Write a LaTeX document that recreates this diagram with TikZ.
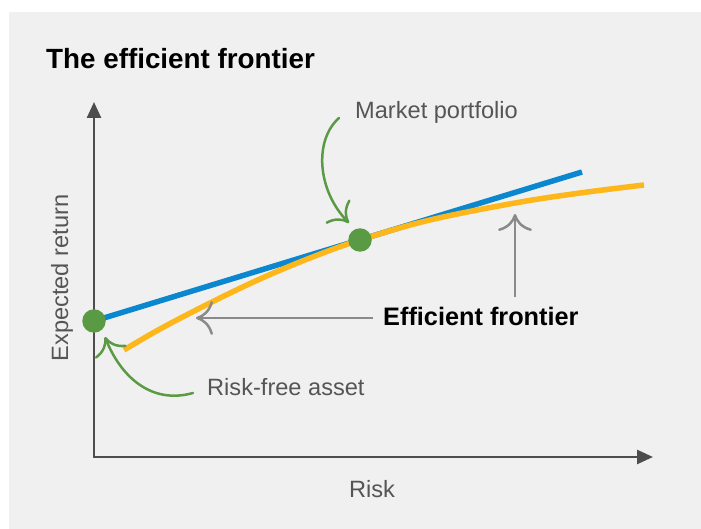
\documentclass[tikz,border=0pt]{standalone}
\usepackage{fontspec}
\setmainfont{Liberation Sans}
\usetikzlibrary{arrows.meta}
\definecolor{bgc}{HTML}{F0F0F0}
\definecolor{axisc}{HTML}{4D4D4D}
\definecolor{bluec}{HTML}{0A87CE}
\definecolor{orangec}{HTML}{FDB71A}
\definecolor{greenc}{HTML}{5A9A45}
\definecolor{grayarr}{HTML}{8A8A8A}
\definecolor{labelc}{HTML}{555555}
\tikzset{
  lbl/.style={inner sep=0pt, text=labelc, font=\fontsize{23.6}{28}\selectfont},
  axisline/.style={draw=axisc, line width=2.5pt, {Triangle[length=16pt,width=14pt]}-{Triangle[length=16pt,width=14pt]}},
  grayarrow/.style={draw=grayarr, line width=2.5pt, -{Computer Modern Rightarrow[length=17pt,width=34pt,line width=2.5pt]}},
  greenarrow/.style={draw=greenc, line width=2.5pt, line cap=round, -{Computer Modern Rightarrow[length=17pt,width=34pt,line width=2.5pt]}},
  dot/.style={circle, fill=greenc, minimum size=23.5pt, inner sep=0pt},
}
\begin{document}
\begin{tikzpicture}[x=1pt,y=-1pt]
\useasboundingbox (0,0) rectangle (701,529);
\fill[bgc] (9,12) rectangle (701,529);
% title
\node[inner sep=0pt, anchor=base west, font=\fontsize{27.8}{32}\selectfont\bfseries] (title) at (46,69) {The efficient frontier};
% axes
\coordinate (ytip) at (94,102);
\coordinate (xtip) at (653,457);
\draw[axisline] (ytip) |- (xtip);
% axis labels
\node[lbl, rotate=90, anchor=base] (ylab) at (68,278) {Expected return};
\node[lbl, anchor=base] (xlab) at (372,497) {Risk};
% dots positions
\coordinate (rfc) at (94,321);
\coordinate (mpc) at (360,240);
\coordinate (blueend) at (582,172);
% capital market line
\draw[bluec, line width=5.5pt] (rfc) -- (blueend);
% efficient frontier curve
\draw[orangec, line width=5.5pt] plot[smooth, tension=0.6] coordinates {(124,350) (160,329) (210,303) (260,279) (310,258) (360,240) (430,220) (515,203) (580,193) (644,185)};
% dots
\node[dot] (rf) at (rfc) {};
\node[dot] (mp) at (mpc) {};
% labels
\node[lbl, anchor=base west] (mplab) at (355,119) {Market portfolio};
\node[lbl, anchor=base west] (rflab) at (207,395) {Risk-free asset};
\node[inner sep=0pt, anchor=base west, font=\fontsize{25.3}{30}\selectfont\bfseries] (eflab) at (383,325) {Efficient frontier};
% gray arrows
\coordinate (hstart) at (373,318);
\coordinate (hend) at (196,318);
\coordinate (vstart) at (515,297);
\coordinate (vend) at (515,214);
\draw[grayarrow] (hstart) -- (hend);
\draw[grayarrow] (vstart) -- (vend);
% green arrows
\coordinate (g1s) at (339,118);
\coordinate (g1e) at (349,223);
\draw[greenarrow] (g1s) .. controls (314,140) and (317,190) .. (g1e);
\coordinate (g2s) at (193,393);
\coordinate (g2e) at (105,337);
\draw[greenarrow] (g2s) .. controls (150,405) and (120,375) .. (g2e);
\end{tikzpicture}
\end{document}
